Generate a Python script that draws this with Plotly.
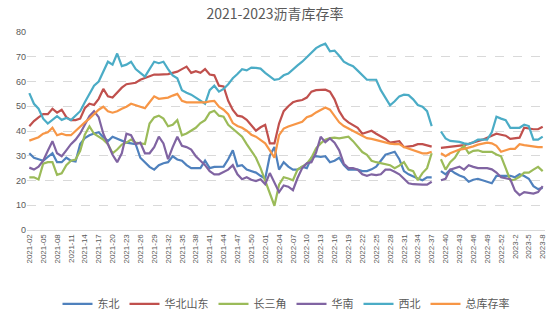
import plotly.graph_objects as go

weeks = ([f"2021-{w:02d}" for w in range(2, 53)] + [f"2022-{w:02d}" for w in range(1, 53)]
         + ["2022-53", "2023-1"] + [f"2023-{w}" for w in range(2, 9)])

dongbei = [31, 29.2, 28.6, 28, 29.5, 31, 27.4, 27.4, 29.2, 28,
           27.7, 34.7, 37.1, 38.3, 39, 39.5, 37.5, 35.9, 37.7, 36.8,
           36.2, 35.3, 35, 34.7, 29.2, 27.4, 25.5, 24.4, 26.2, 27,
           27.4, 29.8, 28.5, 28, 26.2, 25, 25, 25, 28, 25,
           25.5, 25.6, 25.6, 28.6, 32.2, 25.8, 26.2, 24.4, 23.8, 23.2,
           21.9, 20.7, 30, 33.5, 24.4, 27.4, 25.6, 24.4, 24.4, 25.6,
           25, 29.2, 29.8, 29.5, 29.8, 27.4, 28, 29.2, 26.2, 24.4,
           24.4, 24.4, 23.8, 23.8, 24.5, 25.6, 28, 30.4, 31, 31.6,
           28.6, 23.8, 22.5, 21.5, 20.8, 20.1, 21.3, 21.3, None, 23.8,
           22.5, 24.4, 23, 22, 21.3, 19.5, 20.3, 20.7, 20.1, 19.5,
           18.9, 21.9, 21.9, 21.9, 21.9, 21.3, 22.5, 21.8, 20.7, 17.7,
           16.5, 17]

huabei = [41.9, 44, 45.5, 46.8, 46.8, 49, 47.4, 48.6, 45.6, 44.4,
          44.4, 45, 49.2, 51, 50.5, 53, 57, 54, 53.5, 55.5,
          57.5, 58.9, 59.2, 59.5, 60.7, 61.5, 62.3, 62.8, 62.8, 62.8,
          63, 63.5, 64, 65, 66, 63.5, 64.2, 63.5, 65, 62.8,
          62.5, 58.3, 58, 52.2, 48.5, 46.2, 45.8, 44.5, 42.5, 40.1,
          41.5, 42.5, 35, 35, 43, 48, 50, 51.6, 52.2, 52.5,
          53.5, 55.9, 56.5, 56.6, 56.7, 55.9, 52.8, 48, 45, 43.5,
          42.5, 41.3, 38.9, 39.5, 40.1, 38.9, 37.8, 36.8, 35.3, 35.5,
          35.9, 33.5, 33.6, 34, 34.7, 34.7, 34.2, 33.7, None, 33.2,
          33.4, 33.6, 33.8, 34.2, 34.3, 34.8, 35.3, 35.8, 36.5, 37.3,
          38, 38.9, 38.5, 38.1, 36.8, 37, 37.3, 41.3, 41, 40.7,
          40.7, 41.7]

changsanjiao = [21.3, 21.3, 20.4, 26.8, 27.4, 27.4, 22.3, 22.9, 26.2, 28,
                28.5, 32, 38.5, 41.9, 38.9, 37.7, 36.5, 34.7, 31, 32.5,
                34.5, 35.3, 36.5, 35.3, 35, 34.7, 43, 45.5, 46.2, 45,
                41.9, 42.5, 44.4, 38.3, 39, 40, 41.3, 43.2, 44.4, 47.4,
                48.2, 46.2, 45.8, 42.5, 41, 39.5, 37.7, 34.7, 32, 29.2,
                25, 20, 14.7, 9.8, 18.3, 21.3, 20.8, 20.1, 24.4, 25.5,
                26.8, 29.2, 33, 35, 36.5, 37.1, 37.3, 37, 37.5, 37.7,
                35.9, 33.5, 31.5, 30.4, 28, 27.4, 27, 26.8, 26.2, 25,
                26, 27.4, 24.4, 23.8, 20.1, 23, 25, 31, None, 28.6,
                24.4, 27.4, 29.2, 32.2, 34, 31, 32, 32.2, 31.6, 31.6,
                31.6, 30.5, 29.8, 25, 20.1, 20.4, 21.5, 23.2, 23.2, 24.4,
                25.5, 23.8]

huanan = [25.2, 24.4, 25.6, 28, 32, 35.9, 31, 29.8, 32.2, 34.7,
          36.5, 39, 42.5, 46, 48, 45.6, 38.9, 34.7, 30.4, 27.4,
          31, 38.9, 38.3, 34.7, 35.3, 31, 31, 33.5, 37.7, 35,
          28.6, 33.5, 37.7, 34, 33.5, 32.5, 29.8, 28, 26.2, 23.8,
          22.5, 22.5, 23.5, 24.4, 26.2, 22.5, 20.5, 21.3, 20.3, 19.8,
          20.5, 18.5, 23, 19, 15.3, 18, 17.5, 16.1, 21, 25,
          27, 27.4, 31.3, 37.7, 35.5, 37, 35.3, 32.2, 26.8, 25,
          25, 24.4, 22.5, 21.9, 22.5, 22.2, 22.5, 24.4, 24.4, 23.5,
          22.5, 20.7, 18.9, 18.5, 18.3, 18.3, 18.3, 19.5, None, 20.1,
          20.7, 24.4, 25, 25.6, 24.4, 26.2, 25.5, 25, 25, 25,
          24.5, 23.2, 21.3, 21, 20.5, 15.9, 14.1, 15.3, 15, 14.7,
          15.3, 17.7]

xibei = [55.3, 51, 49, 45, 43, 44.5, 46, 44.5, 45.3, 44.4,
         46, 48, 51.6, 55, 58.3, 60, 64, 68, 66.8, 71.3,
         66.2, 66.8, 68, 65, 63.5, 62, 65, 68, 67.4, 68,
         65, 62.5, 61.3, 56.5, 55.5, 54.7, 53.5, 52.2, 51, 56.5,
         58.3, 55.9, 57, 58.9, 61.3, 63, 65, 64.5, 65.6, 65.5,
         65.2, 63.5, 62, 60.7, 61, 62.5, 63.2, 65, 66.5, 68,
         69.8, 71.5, 73.5, 74.5, 75.3, 72.2, 72.5, 70.4, 68, 67,
         66.2, 64.4, 62.5, 60.7, 60.7, 60.7, 56.5, 53.5, 50.4, 52,
         54, 54.7, 54.5, 52.8, 50.5, 49.8, 48, 42, None, 39.8,
         37, 36, 35.8, 35.6, 35, 34.7, 35.5, 36.5, 36.5, 36.5,
         39.5, 45.8, 45, 44.4, 41.3, 41.3, 41.3, 42.5, 42, 36.5,
         36.5, 37.7]

zong = [36.1, 36.8, 37.5, 38.9, 39.5, 41.3, 38.3, 38.9, 38.3, 38.3,
        40.1, 41.5, 43.5, 45, 46.8, 48.6, 49.8, 48, 47.4, 48,
        49, 49.8, 51, 50.5, 49.8, 49.2, 51.6, 54, 53, 53.3,
        53.5, 54.3, 55, 52.2, 51.6, 51.6, 51.6, 51.6, 51.6, 52,
        52.2, 49.8, 48.6, 46.8, 43.2, 42, 41.3, 40.1, 38.5, 37.7,
        36.5, 35, 32.2, 29.2, 38.3, 41, 41.8, 42.5, 43.2, 43.7,
        45.6, 46.2, 47.5, 48.6, 49.5, 48.6, 46.2, 43.5, 42, 41,
        40.1, 38.8, 38, 37.1, 36.8, 36.3, 35.9, 35.5, 34.9, 34.7,
        34.7, 33.5, 32.8, 32.2, 31.6, 31, 31, 31.6, None, 31,
        29.8, 31, 31.8, 32.5, 32.8, 33.2, 33.8, 34.5, 34.9, 35.3,
        35, 34, 31.6, 32.2, 32.8, 32.8, 34.7, 34.3, 34, 33.5,
        33.5, 33.5]

series_names = ["东北", "华北山东", "长三角", "华南", "西北", "总库存率"]
series_data = [dongbei, huabei, changsanjiao, huanan, xibei, zong]
colors = ["#4F81BD", "#C0504D", "#9BBB59", "#8064A2", "#4BACC6", "#F79646"]

tick_vals = weeks[::3]
y_ticks = list(range(0, 90, 10))

FONT = "Noto Sans CJK SC, Noto Sans, sans-serif"

fig = go.Figure()
for name, data, c in zip(series_names, series_data, colors):
    n = min(len(weeks), len(data))
    fig.add_trace(go.Scatter(
        x=weeks[:n], y=data[:n], name=name, mode="lines",
        line=dict(color=c, width=2.2), connectgaps=False,
    ))

fig.update_layout(
    width=550, height=322,
    margin=dict(l=27, r=3, t=32, b=70),
    paper_bgcolor="white", plot_bgcolor="white",
    font=dict(family=FONT, color="#595959"),
    title=dict(text="2021-2023沥青库存率", x=0.5, xanchor="center",
               y=0.955, yanchor="middle", font=dict(size=14, color="#595959", family=FONT)),
    showlegend=True,
    legend=dict(orientation="h", x=0.5, xanchor="center", y=-0.3, yanchor="top",
                font=dict(size=11, color="#595959", family=FONT),
                itemwidth=30, tracegroupgap=0, bgcolor="rgba(0,0,0,0)"),
    xaxis=dict(type="category", categoryorder="array", categoryarray=weeks,
               range=[-0.5, len(weeks) - 0.5],
               tickmode="array", tickvals=tick_vals, ticktext=tick_vals,
               tickangle=-90, tickfont=dict(size=8, color="#595959", family="Liberation Sans, sans-serif"),
               showgrid=False, showline=True, linecolor="#D9D9D9", linewidth=1,
               ticks="", zeroline=False),
    yaxis=dict(range=[0, 80], tickvals=y_ticks, showgrid=True, gridcolor="#D9D9D9",
               griddash="dash", gridwidth=1, zeroline=False, showline=False,
               tickfont=dict(size=9, color="#595959", family="Liberation Sans, sans-serif"),
               ticks=""),
)

fig.write_html("out.html")
